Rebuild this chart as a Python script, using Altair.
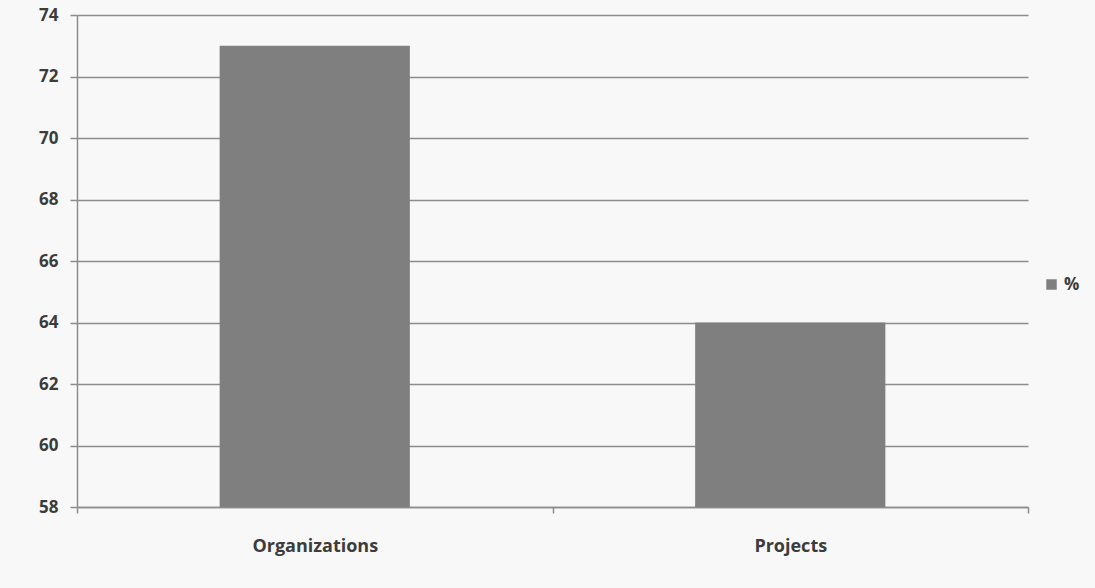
import altair as alt
import pandas as pd

categories = ["Organizations", "Projects"]
values = [73, 64]
series = ["%", "%"]
baseline = 58

df = pd.DataFrame({"category": categories, "value": values, "series": series})

FONT = "Open Sans"
TXT = "#3c3c3c"
GRID = "#8c8c8c"

bars = alt.Chart(df).mark_bar(color="#7f7f7f", width=alt.RelativeBandSize(0.4)).encode(
    x=alt.X("category:N", sort=categories, title=None,
            scale=alt.Scale(paddingInner=0, paddingOuter=0),
            axis=alt.Axis(labelAngle=0, labelFont=FONT, labelFontSize=18, labelFontWeight="bold",
                          labelColor=TXT, labelPadding=24, tickBand="extent", tickSize=6,
                          tickColor=GRID, tickWidth=1.5, domainColor=GRID, domainWidth=1.5,
                          grid=False)),
    y=alt.Y("value:Q", title=None,
            scale=alt.Scale(domain=[58, 74], zero=False, nice=False),
            axis=alt.Axis(values=list(range(58, 75, 2)), labelFont=FONT, labelFontSize=17,
                          labelFontWeight="bold", labelColor=TXT, labelPadding=12, tickSize=7,
                          tickColor=GRID, tickWidth=1.5, domainColor=GRID, domainWidth=1.5,
                          gridColor=GRID, gridWidth=1.5, gridOpacity=1)),
    y2=alt.datum(baseline),
    color=alt.Color("series:N", title=None,
                    scale=alt.Scale(domain=["%"], range=["#7f7f7f"]),
                    legend=alt.Legend(orient="none", legendX=966, legendY=261, symbolType="square",
                                      symbolSize=110, symbolStrokeWidth=0, labelFont=FONT,
                                      labelFontSize=17, labelFontWeight="bold", labelColor=TXT,
                                      labelOffset=4)),
)

chart = bars.properties(
    width=951, height=492,
    autosize=alt.AutoSizeParams(type="none"),
    padding={"left": 77, "top": 15, "right": 67, "bottom": 81},
    background="#f8f8f8",
).configure_view(stroke=None)

chart.save("out.html", embed_options={"renderer": "svg", "actions": False})
